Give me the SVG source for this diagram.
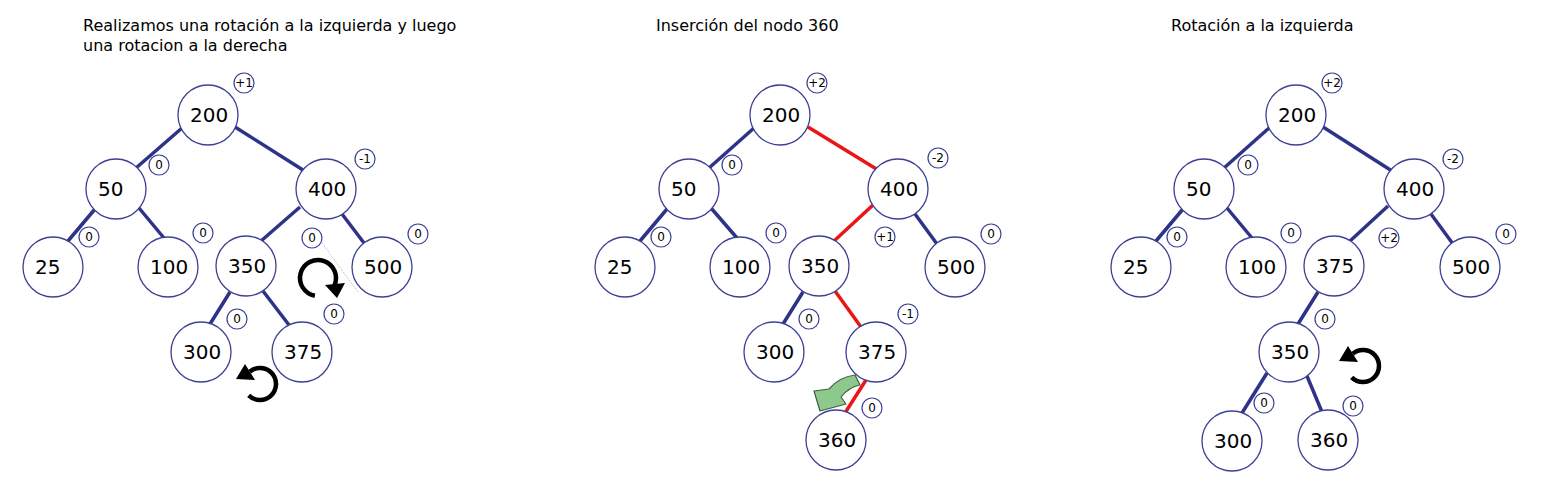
<svg xmlns="http://www.w3.org/2000/svg" width="1548" height="499" viewBox="0 0 1548 499">
<style>
text{font-family:"DejaVu Sans",Verdana,"Liberation Sans",sans-serif;fill:#000}
.title{font-size:16px}
.node circle{fill:#fff;stroke:#3d4094;stroke-width:1.3}
.node text{font-size:20px}
.badge circle{fill:#fff;stroke:#3d4094;stroke-width:1.2}
.badge text{font-size:12px;text-anchor:middle}
.edge{stroke:#2e3388;stroke-width:3.5;fill:none}
.red{stroke:#ea1515}
.rot{fill:none;stroke:#000;stroke-width:4.5}
</style>
<defs>
<g id="ccw">
<path class="rot" d="M-11.3,11.3 A16,16 0 1 0 -10.3,-12.3"/>
<polygon points="-24,-5 -15,-20 -5,-4" fill="#000"/>
</g>
</defs>
<rect width="1548" height="499" fill="#fff"/>

<!-- titles -->
<text class="title" x="83" y="31">Realizamos una rotación a la izquierda y luego</text>
<text class="title" x="83" y="51">una rotacion a la derecha</text>
<text class="title" x="656" y="31">Inserción del nodo 360</text>
<text class="title" x="1171" y="31">Rotación a la izquierda</text>

<!-- connectors -->
<g id="connectors">
<!-- panel 1 -->
<line class="edge" x1="182" y1="128" x2="136" y2="168"/>
<line class="edge" x1="235" y1="127" x2="303" y2="170"/>
<line class="edge" x1="95" y1="209" x2="68" y2="241"/>
<line class="edge" x1="139" y1="208" x2="164" y2="238"/>
<line class="edge" x1="300" y1="207" x2="261" y2="241"/>
<line class="edge" x1="342" y1="214" x2="364" y2="243"/>
<line class="edge" x1="230" y1="292" x2="210" y2="324"/>
<line class="edge" x1="263" y1="291" x2="289" y2="325"/>
<line x1="322" y1="243" x2="358" y2="292" stroke="#bbb" stroke-width="1" stroke-dasharray="1 1"/>
<!-- panel 2 -->
<line class="edge" x1="754" y1="128" x2="709" y2="168"/>
<line class="edge red" x1="808" y1="127" x2="878" y2="170"/>
<line class="edge" x1="667" y1="209" x2="640" y2="241"/>
<line class="edge" x1="711" y1="208" x2="737" y2="238"/>
<line class="edge red" x1="873" y1="205" x2="834" y2="241"/>
<line class="edge" x1="915" y1="214" x2="937" y2="244"/>
<line class="edge" x1="803" y1="292" x2="783" y2="324"/>
<line class="edge red" x1="835" y1="291" x2="861" y2="327"/>
<line class="edge red" x1="866" y1="380" x2="845" y2="413"/>
<!-- panel 3 -->
<line class="edge" x1="1269" y1="128" x2="1224" y2="168"/>
<line class="edge" x1="1323" y1="127" x2="1392" y2="171"/>
<line class="edge" x1="1183" y1="209" x2="1156" y2="241"/>
<line class="edge" x1="1227" y1="208" x2="1252" y2="238"/>
<line class="edge" x1="1388" y1="206" x2="1350" y2="241"/>
<line class="edge" x1="1431" y1="214" x2="1453" y2="244"/>
<line class="edge" x1="1318" y1="292" x2="1298" y2="324"/>
<line class="edge" x1="1267" y1="373" x2="1242" y2="413"/>
<line class="edge" x1="1307" y1="376" x2="1322" y2="412"/>
</g>

<!-- panel 1 nodes -->
<g id="p1-n200" class="node"><circle cx="208" cy="115" r="30"/><text x="190" y="122">200</text></g>
<g id="p1-n50" class="node"><circle cx="116" cy="189" r="30"/><text x="98" y="196">50</text></g>
<g id="p1-n400" class="node"><circle cx="326" cy="189" r="30"/><text x="308" y="196">400</text></g>
<g id="p1-n25" class="node"><circle cx="53" cy="267" r="30"/><text x="35" y="274">25</text></g>
<g id="p1-n100" class="node"><circle cx="168" cy="267" r="30"/><text x="150" y="274">100</text></g>
<g id="p1-n350" class="node"><circle cx="246" cy="266" r="30"/><text x="228" y="273">350</text></g>
<g id="p1-n500" class="node"><circle cx="382" cy="267" r="30"/><text x="364" y="274">500</text></g>
<g id="p1-n300" class="node"><circle cx="201" cy="352" r="30"/><text x="183" y="359">300</text></g>
<g id="p1-n375" class="node"><circle cx="302" cy="352" r="30"/><text x="284" y="359">375</text></g>

<g id="p1-b200" class="badge"><circle cx="244" cy="83" r="10"/><text x="244" y="87">+1</text></g>
<g id="p1-b50" class="badge"><circle cx="159" cy="165" r="10"/><text x="159" y="169">0</text></g>
<g id="p1-b400" class="badge"><circle cx="365" cy="159" r="10"/><text x="365" y="163">-1</text></g>
<g id="p1-b25" class="badge"><circle cx="89" cy="237" r="10"/><text x="89" y="241">0</text></g>
<g id="p1-b100" class="badge"><circle cx="203" cy="233" r="10"/><text x="203" y="237">0</text></g>
<g id="p1-b350" class="badge"><circle cx="312" cy="238" r="10"/><text x="312" y="242">0</text></g>
<g id="p1-b500" class="badge"><circle cx="418" cy="234" r="10"/><text x="418" y="238">0</text></g>
<g id="p1-b300" class="badge"><circle cx="237" cy="319" r="10"/><text x="237" y="323">0</text></g>
<g id="p1-b375" class="badge"><circle cx="334" cy="314" r="10"/><text x="334" y="318">0</text></g>

<g id="p1-rot-cw">
<path class="rot" stroke-width="5" d="M314.9,295.7 A18,18 0 1 1 334.3,285.6"/>
<polygon points="325,285 345,283 337,298" fill="#000"/>
</g>
<use id="p1-rot-ccw" href="#ccw" transform="translate(260,384)"/>

<!-- panel 2 nodes -->
<g id="p2-n200" class="node"><circle cx="780" cy="115" r="30"/><text x="762" y="122">200</text></g>
<g id="p2-n50" class="node"><circle cx="689" cy="189" r="30"/><text x="671" y="196">50</text></g>
<g id="p2-n400" class="node"><circle cx="898" cy="189" r="30"/><text x="880" y="196">400</text></g>
<g id="p2-n25" class="node"><circle cx="625" cy="267" r="30"/><text x="607" y="274">25</text></g>
<g id="p2-n100" class="node"><circle cx="740" cy="267" r="30"/><text x="722" y="274">100</text></g>
<g id="p2-n350" class="node"><circle cx="819" cy="266" r="30"/><text x="801" y="273">350</text></g>
<g id="p2-n500" class="node"><circle cx="955" cy="267" r="30"/><text x="937" y="274">500</text></g>
<g id="p2-n300" class="node"><circle cx="774" cy="352" r="30"/><text x="756" y="359">300</text></g>
<g id="p2-n375" class="node"><circle cx="876" cy="352" r="30"/><text x="858" y="359">375</text></g>
<g id="p2-n360" class="node"><circle cx="836" cy="440" r="30"/><text x="818" y="447">360</text></g>

<g id="p2-b200" class="badge"><circle cx="817" cy="83" r="10"/><text x="817" y="87">+2</text></g>
<g id="p2-b50" class="badge"><circle cx="732" cy="165" r="10"/><text x="732" y="169">0</text></g>
<g id="p2-b400" class="badge"><circle cx="938" cy="158" r="10"/><text x="938" y="162">-2</text></g>
<g id="p2-b25" class="badge"><circle cx="661" cy="237" r="10"/><text x="661" y="241">0</text></g>
<g id="p2-b100" class="badge"><circle cx="776" cy="233" r="10"/><text x="776" y="237">0</text></g>
<g id="p2-b350" class="badge"><circle cx="885" cy="237" r="10"/><text x="885" y="241">+1</text></g>
<g id="p2-b500" class="badge"><circle cx="991" cy="234" r="10"/><text x="991" y="238">0</text></g>
<g id="p2-b300" class="badge"><circle cx="809" cy="319" r="10"/><text x="809" y="323">0</text></g>
<g id="p2-b375" class="badge"><circle cx="908" cy="314" r="10"/><text x="908" y="318">-1</text></g>
<g id="p2-b360" class="badge"><circle cx="872" cy="408" r="10"/><text x="872" y="412">0</text></g>

<g id="p2-green-arrow">
<path d="M855,375 L860,385 Q849,387 841,397 L846,404 L820,411 L814,391 L829,389 Q839,377 855,375 Z" fill="#8dc88d" stroke="#3f5f3f" stroke-width="1.2" stroke-linejoin="round"/>
</g>

<!-- panel 3 nodes -->
<g id="p3-n200" class="node"><circle cx="1296" cy="115" r="30"/><text x="1278" y="122">200</text></g>
<g id="p3-n50" class="node"><circle cx="1204" cy="189" r="30"/><text x="1186" y="196">50</text></g>
<g id="p3-n400" class="node"><circle cx="1414" cy="189" r="30"/><text x="1396" y="196">400</text></g>
<g id="p3-n25" class="node"><circle cx="1141" cy="267" r="30"/><text x="1123" y="274">25</text></g>
<g id="p3-n100" class="node"><circle cx="1256" cy="267" r="30"/><text x="1238" y="274">100</text></g>
<g id="p3-n375" class="node"><circle cx="1334" cy="266" r="30"/><text x="1316" y="273">375</text></g>
<g id="p3-n500" class="node"><circle cx="1470" cy="267" r="30"/><text x="1452" y="274">500</text></g>
<g id="p3-n350" class="node"><circle cx="1289" cy="352" r="30"/><text x="1271" y="359">350</text></g>
<g id="p3-n300" class="node"><circle cx="1232" cy="441" r="30"/><text x="1214" y="448">300</text></g>
<g id="p3-n360" class="node"><circle cx="1328" cy="440" r="30"/><text x="1310" y="447">360</text></g>

<g id="p3-b200" class="badge"><circle cx="1332" cy="83" r="10"/><text x="1332" y="87">+2</text></g>
<g id="p3-b50" class="badge"><circle cx="1248" cy="165" r="10"/><text x="1248" y="169">0</text></g>
<g id="p3-b400" class="badge"><circle cx="1453" cy="159" r="10"/><text x="1453" y="163">-2</text></g>
<g id="p3-b25" class="badge"><circle cx="1177" cy="237" r="10"/><text x="1177" y="241">0</text></g>
<g id="p3-b100" class="badge"><circle cx="1291" cy="233" r="10"/><text x="1291" y="237">0</text></g>
<g id="p3-b375" class="badge"><circle cx="1389" cy="238" r="10"/><text x="1389" y="242">+2</text></g>
<g id="p3-b500" class="badge"><circle cx="1506" cy="234" r="10"/><text x="1506" y="238">0</text></g>
<g id="p3-b350" class="badge"><circle cx="1325" cy="319" r="10"/><text x="1325" y="323">0</text></g>
<g id="p3-b300" class="badge"><circle cx="1264" cy="403" r="10"/><text x="1264" y="407">0</text></g>
<g id="p3-b360" class="badge"><circle cx="1353" cy="406" r="10"/><text x="1353" y="410">0</text></g>

<use id="p3-rot-ccw" href="#ccw" transform="translate(1363,366)"/>
</svg>
